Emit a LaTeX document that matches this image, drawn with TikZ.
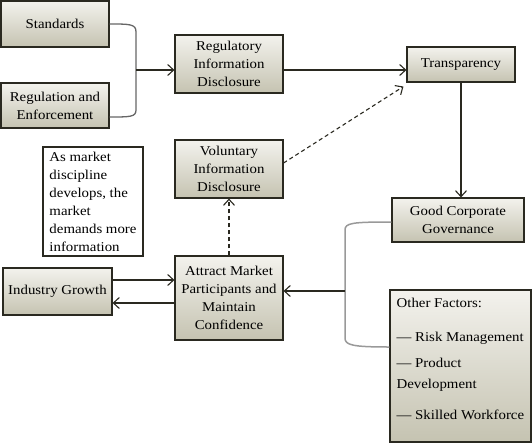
\documentclass[tikz,border=0pt]{standalone}
\usepackage{fontspec}
\setmainfont[FakeStretch=1.1]{Liberation Serif}
\usetikzlibrary{arrows.meta}
\definecolor{boxtop}{HTML}{F3F2ED}
\definecolor{boxbot}{HTML}{C5C3B1}
\definecolor{edge}{HTML}{2A2920}
\definecolor{lbr}{HTML}{666666}
\definecolor{rbr}{HTML}{999999}
\newcommand\fsz{\fontsize{13.5pt}{18pt}\selectfont}
\begin{document}
\begin{tikzpicture}[x=1pt,y=-1pt,
  box/.style={draw=edge, line width=1.1pt, top color=boxtop, bottom color=boxbot,
    align=center, inner sep=2pt, font=\fsz},
  notebox/.style={draw=edge, line width=1.1pt, fill=white, align=left, inner sep=2pt, font=\fsz},
  lbl/.style={align=left, inner sep=0pt, font=\fsz},
  arr/.style={draw=edge, line width=1.1pt, -{Straight Barb[length=6pt,width=11pt]}},
  darr/.style={arr, dash pattern=on 4pt off 3pt},
  lbrace/.style={draw=lbr, line width=1.3pt},
  rbrace/.style={draw=rbr, line width=1.5pt}]
\useasboundingbox (0,0) rectangle (532,444);

\node[box, minimum width=108pt, minimum height=46pt] (std) at (55,24) {Standards};
\node[box, minimum width=108pt, minimum height=45pt] (reg) at (55,105.5) {Regulation and\\Enforcement};
\node[box, minimum width=108pt, minimum height=58pt] (rid) at (229,64) {Regulatory\\Information\\Disclosure};
\node[box, minimum width=108pt, minimum height=35pt] (trn) at (461,64.5) {Transparency};
\node[box, minimum width=108pt, minimum height=58pt] (vol) at (229,169) {Voluntary\\Information\\Disclosure};
\node[notebox, minimum width=100pt, minimum height=109pt] (note) at (93,201.5)
  {As market\\discipline\\develops, the\\market\\demands more\\information};
\node[box, minimum width=109pt, minimum height=47pt] (ind) at (57.5,291.5) {Industry Growth};
\node[box, minimum width=108pt, minimum height=84pt] (att) at (229,298)
  {Attract Market\\Participants and\\Maintain\\Confidence};
\node[box, minimum width=132pt, minimum height=44pt] (gcg) at (458,220) {Good Corporate\\Governance};
\node[box, minimum width=141pt, minimum height=152pt] (oth) at (460.5,366) {};
\node[lbl, anchor=north west] (othtxt) at ([xshift=7pt,yshift=-8pt]oth.north west)
  {Other Factors:\\[16pt]\textemdash\ Risk Management\\[8pt]\textemdash\ Product\\[3pt]Development\\[13pt]\textemdash\ Skilled Workforce};

% left brace
\coordinate (bj) at (136,70);
\draw[lbrace] (std.east) .. controls (130,24) and (136,24) .. (136,32) -- (136,110)
  .. controls (136,117) and (130,117) .. ([yshift=-11.5pt]reg.east);
\draw[arr] (bj) -- (bj -| rid.west);

% top row
\draw[arr] ([yshift=-6pt]rid.east) -- ([yshift=-6pt]rid.east -| trn.west);
\draw[darr] ([yshift=6pt]vol.east) -- ([xshift=-3pt,yshift=-4pt]trn.south west);
\draw[arr] (trn.south) -- (trn.south |- gcg.north);

% right brace
\coordinate (rj) at (345,291);
\draw[rbrace] ([yshift=-2pt]gcg.west) .. controls (352,222) and (345,223) .. (345,230) -- (345,338)
  .. controls (345,345) and (352,347) .. ([yshift=19pt]oth.west);
\draw[arr] (rj) -- (rj -| att.east);

% attract links
\draw[darr] (att.north) -- (vol.south);
\draw[arr] ([yshift=11.5pt]ind.east) -- ([yshift=11.5pt]ind.east -| att.west);
\draw[arr] ([yshift=-11.5pt]ind.east -| att.west) -- ([yshift=-11.5pt]ind.east);
\end{tikzpicture}
\end{document}
